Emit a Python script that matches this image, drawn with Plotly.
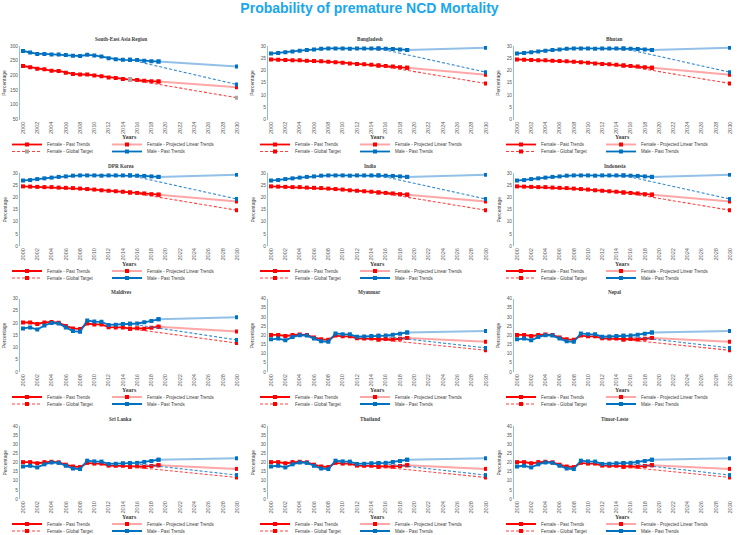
import plotly.graph_objects as go

W, H = 739, 535

# ---------------- data ----------------
years_past = list(range(2000, 2020))
years_proj = [2019, 2030]
years_target = [2015, 2030]
tick_years = list(range(2000, 2031, 2))

countries = ["South-East Asia Region", "Bangladesh", "Bhutan",
             "DPR Korea", "India", "Indonesia",
             "Maldives", "Myanmar", "Nepal",
             "Sri Lanka", "Thailand", "Timor-Leste"]

sear_female = [232, 228, 223, 221, 216, 215, 209, 205, 203, 203,
               200, 197, 193, 191, 188, 186, 184, 182, 180, 179]
sear_male = [283, 278, 273, 273, 271, 271, 269, 267, 266, 270,
             268, 264, 258, 255, 253, 253, 252, 250, 248, 247]
sear_female_proj = [179, 160]
sear_female_target = [186, 124]
sear_male_proj = [247, 230]
sear_male_target = [253, 169]

grpA_female = [24.5, 24.4, 24.3, 24.2, 24.2, 24.0, 23.9, 23.8, 23.6, 23.4,
               23.2, 22.9, 22.7, 22.5, 22.3, 22.0, 21.8, 21.6, 21.3, 21.1]
grpA_male = [26.9, 27.1, 27.5, 27.8, 28.1, 28.4, 28.6, 28.9, 29.0, 29.0,
             29.0, 28.9, 29.0, 29.0, 29.0, 29.0, 28.9, 28.8, 28.6, 28.4]
grpA_female_proj = [21.1, 18.3]
grpA_female_target = [22.0, 14.7]
grpA_male_proj = [28.4, 29.3]
grpA_male_target = [29.0, 19.3]

grpB_female = [20.2, 20.2, 19.6, 20.2, 20.4, 20.1, 18.8, 17.8, 17.5, 19.8,
               19.4, 19.4, 18.3, 18.2, 18.2, 17.7, 17.9, 17.7, 18.1, 18.5]
grpB_male = [17.8, 18.2, 17.3, 19.0, 20.0, 19.8, 18.2, 16.7, 16.4, 21.0,
             20.6, 20.5, 19.2, 19.3, 19.6, 19.7, 19.8, 20.3, 20.8, 21.5]
grpB_female_proj = [18.5, 16.5]
grpB_female_target = [17.7, 11.8]
grpB_male_proj = [21.5, 22.3]
grpB_male_target = [19.7, 13.1]

sear = dict(f=sear_female, m=sear_male, fp=sear_female_proj, ft=sear_female_target,
            mp=sear_male_proj, mt=sear_male_target)
grpA = dict(f=grpA_female, m=grpA_male, fp=grpA_female_proj, ft=grpA_female_target,
            mp=grpA_male_proj, mt=grpA_male_target)
grpB = dict(f=grpB_female, m=grpB_male, fp=grpB_female_proj, ft=grpB_female_target,
            mp=grpB_male_proj, mt=grpB_male_target)

country_data = [sear, grpA, grpA, grpA, grpA, grpA, grpB, grpB, grpB, grpB, grpB, grpB]
y_ranges = [(50, 300), (0, 30), (0, 30), (0, 30), (0, 30), (0, 30),
            (0, 30), (0, 40), (0, 40), (0, 40), (0, 40), (0, 40)]
y_dticks = [50, 5, 5, 5, 5, 5, 5, 5, 5, 5, 5, 5]

# ---------------- style / layout ----------------
RED = "#FF0000"
BLUE = "#0070C0"
RED_LIGHT = "rgba(255,60,60,0.45)"
BLUE_LIGHT = "rgba(40,130,205,0.5)"
RED_DASH = "rgba(255,30,30,0.85)"
BLUE_DASH = "rgba(30,125,205,0.9)"
DASH = "3px,2px"
SANS = "Liberation Sans"
SERIF = "Liberation Serif"

col_px = [(20, 238), (268, 487), (514, 731)]
row_px = [(46, 119.5), (173, 246), (298.5, 372), (426, 499)]

fig = go.Figure()
annotations = []
layout_extra = {}

for i, name in enumerate(countries):
    r, c = divmod(i, 3)
    n = i + 1
    d = country_data[i]
    xs = "x" if n == 1 else f"x{n}"
    ys = "y" if n == 1 else f"y{n}"
    leg = ["legend" if i == 0 else f"legend{4 * i + 1}",
           f"legend{4 * i + 2}", f"legend{4 * i + 3}", f"legend{4 * i + 4}"]
    tgt_marker = "#A6A6A6" if i == 0 else RED

    fig.add_trace(go.Scatter(
        x=years_past, y=d["f"], mode="lines+markers", name="Female - Past Trends",
        line=dict(color=RED, width=1.8), marker=dict(symbol="square", size=4, color=RED),
        xaxis=xs, yaxis=ys, legend=leg[0]))
    fig.add_trace(go.Scatter(
        x=years_proj, y=d["fp"], mode="lines+markers", name="Female - Projected Linear Trends",
        line=dict(color=RED_LIGHT, width=2), marker=dict(symbol="square", size=4, color=RED),
        xaxis=xs, yaxis=ys, legend=leg[1]))
    fig.add_trace(go.Scatter(
        x=years_target, y=d["ft"], mode="lines+markers", name="Female - Global Target",
        line=dict(color=RED_DASH, width=1.1, dash=DASH),
        marker=dict(symbol="square", size=4, color=tgt_marker),
        xaxis=xs, yaxis=ys, legend=leg[2]))
    fig.add_trace(go.Scatter(
        x=years_past, y=d["m"], mode="lines+markers", name="Male - Past Trends",
        line=dict(color=BLUE, width=1.8), marker=dict(symbol="square", size=4, color=BLUE),
        xaxis=xs, yaxis=ys, legend=leg[3]))
    fig.add_trace(go.Scatter(
        x=years_proj, y=d["mp"], mode="lines+markers", name="Male - Projected Linear Trends",
        line=dict(color=BLUE_LIGHT, width=2), marker=dict(symbol="square", size=4, color=BLUE),
        xaxis=xs, yaxis=ys, showlegend=False))
    fig.add_trace(go.Scatter(
        x=years_target, y=d["mt"], mode="lines+markers", name="Male - Global Target",
        line=dict(color=BLUE_DASH, width=1.1, dash=DASH),
        marker=dict(symbol="square", size=4, color=BLUE),
        xaxis=xs, yaxis=ys, showlegend=False))

    x0, x1 = col_px[c]
    y0, y1 = row_px[r]
    xkey = "xaxis" if n == 1 else f"xaxis{n}"
    ykey = "yaxis" if n == 1 else f"yaxis{n}"
    layout_extra[xkey] = dict(
        domain=[x0 / W, x1 / W], anchor=ys, range=[1999.58, 2030.14],
        tickmode="array", tickvals=tick_years, ticktext=[str(t) for t in tick_years],
        tickangle=-90, tickfont=dict(size=5.6, family=SANS, color="#595959"),
        showgrid=False, zeroline=False, showline=False, ticks="")
    layout_extra[ykey] = dict(
        domain=[1 - y1 / H, 1 - y0 / H], anchor=xs, range=list(y_ranges[i]),
        dtick=y_dticks[i], tick0=0,
        tickfont=dict(size=4.8, family=SANS, color="#595959"),
        showgrid=False, zeroline=False, showline=True, linecolor="#8FBCE6", linewidth=1,
        ticks="")
    xc = (x0 + x1) / 2
    annotations.append(dict(
        text=f"<b>{name}</b>", x=(xc - 8) / W, y=1 - (y0 - 7) / H, xref="paper", yref="paper",
        showarrow=False, xanchor="center", yanchor="middle",
        font=dict(size=5.2, family=SERIF, color="#404040")))
    annotations.append(dict(
        text="<b>Years</b>", x=xc / W, y=1 - (y1 + 18) / H, xref="paper", yref="paper",
        showarrow=False, xanchor="center", yanchor="middle",
        font=dict(size=6, family=SERIF, color="#404040")))
    annotations.append(dict(
        text="Percentage", x=(x0 - 16) / W, y=1 - ((y0 + y1) / 2) / H, xref="paper", yref="paper",
        showarrow=False, xanchor="center", yanchor="middle", textangle=-90,
        font=dict(size=5, family=SANS, color="#404040")))
    # four one-item legends: (left column, row 1), (right column, row 1), (left, row 2), (right, row 2)
    leg_pos = [(x0 - 13, 25), (x0 + 87, 25), (x0 - 13, 32), (x0 + 87, 32)]
    for key, (lx, dy) in zip(leg, leg_pos):
        layout_extra[key] = dict(
            orientation="h", x=max(lx, 0) / W, xanchor="left",
            y=1 - (y1 + dy) / H, yanchor="middle",
            font=dict(size=4.5, family=SANS, color="#404040"),
            bgcolor="rgba(0,0,0,0)", itemwidth=30, tracegroupgap=0, borderwidth=0)

fig.update_layout(
    width=W, height=H, margin=dict(l=0, r=0, t=0, b=0, autoexpand=False),
    paper_bgcolor="white", plot_bgcolor="white",
    title=dict(text="<b>Probability of premature NCD Mortality</b>", x=0.5, xanchor="center",
               y=1 - 8 / H, yanchor="middle",
               font=dict(size=14, family=SANS, color="#1AA7EC")),
    annotations=annotations,
    **layout_extra)

fig.write_html("out.html", config={"displayModeBar": False},
               post_script="document.body.style.margin='0px';document.body.style.overflow='hidden';")
